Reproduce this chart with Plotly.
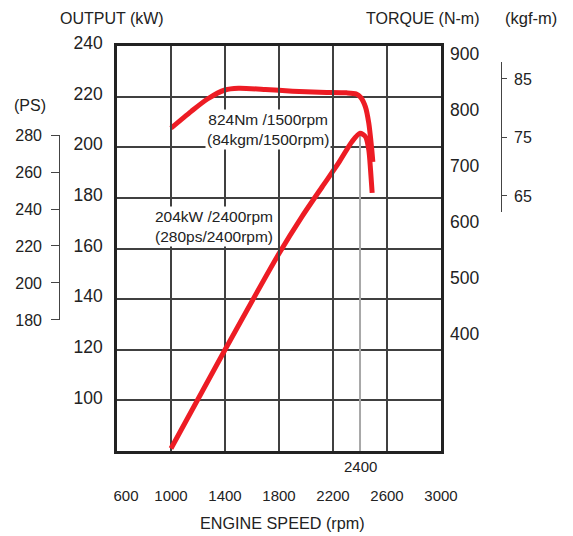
import plotly.graph_objects as go

# ---------------- data ----------------
rpm_power = [1000, 1400, 1800, 1970, 2120, 2240, 2340, 2400, 2440, 2465, 2478, 2490]
power_kw = [81, 120, 158, 172.6, 184.4, 193.7, 202.2, 205.5, 204.2, 199, 191, 182]

rpm_torque = [1000, 1150, 1270, 1400, 1500, 1700, 1900, 2100, 2300, 2370, 2405, 2440, 2465, 2485, 2495]
torque_nm = [767, 797, 819, 835, 838, 836, 833, 831, 830, 828, 822, 805, 776, 734, 707]

x_ticks = [600, 1000, 1400, 1800, 2200, 2600, 3000]
x_tick_text = ["\u2003\u2009600", "1000", "1400", "1800", "2200", "2600", "3000"]
kw_ticks = [100, 120, 140, 160, 180, 200, 220, 240]
nm_ticks = [400, 500, 600, 700, 800, 900]
ps_ticks = [180, 200, 220, 240, 260, 280]
kgf_ticks = [65, 75, 85]

rated_rpm = 2400
power_note = "204kW /2400rpm<br>(280ps/2400rpm)"
torque_note = "824Nm /1500rpm<br>(84kgm/1500rpm)"

# ---------------- style ----------------
RED = "#ED1C24"
INK = "#222222"
GRID = "#404040"
SANS = "Liberation Sans, Arial, sans-serif"

fig = go.Figure()

peak_kw = power_kw[rpm_power.index(rated_rpm)]
fig.add_trace(go.Scatter(x=[rated_rpm, rated_rpm], y=[80, peak_kw], mode="lines",
                         line=dict(color="#A8A8A8", width=2), hoverinfo="skip",
                         showlegend=False))

fig.add_trace(go.Scatter(x=rpm_power, y=power_kw, mode="lines",
                         line=dict(color=RED, width=5, shape="spline", smoothing=0.7),
                         showlegend=False))
fig.add_trace(go.Scatter(x=rpm_torque, y=torque_nm, mode="lines", yaxis="y2",
                         line=dict(color=RED, width=5, shape="spline", smoothing=0.7),
                         showlegend=False))
# empty traces so the PS and kgf-m scales are drawn
fig.add_trace(go.Scatter(x=[], y=[], yaxis="y3", showlegend=False, hoverinfo="skip"))
fig.add_trace(go.Scatter(x=[], y=[], yaxis="y4", showlegend=False, hoverinfo="skip"))

axis_line = dict(showline=True, mirror=True, linecolor=INK, linewidth=2.5)

fig.update_layout(
    template="none",
    width=565, height=528,
    margin=dict(l=12, r=40, t=38, b=85, autoexpand=False),
    paper_bgcolor="white", plot_bgcolor="rgba(0,0,0,0)",
    xaxis=dict(domain=[0.1891, 0.8207], range=[600, 3000], tickvals=x_ticks,
               ticktext=x_tick_text,
               showgrid=True, gridcolor=GRID, gridwidth=1.5, zeroline=False,
               ticks="", tickfont=dict(family=SANS, size=15, color=INK),
               ticklabelstandoff=29, automargin=False, **axis_line),
    yaxis=dict(range=[80, 240], tickvals=kw_ticks, showgrid=True, gridcolor=GRID,
               gridwidth=1.5, zeroline=False, ticks="",
               tickfont=dict(family=SANS, size=17.5, color=INK),
               ticklabelstandoff=8, ticklabelshift=-3, automargin=False, **axis_line),
    yaxis2=dict(overlaying="y", side="right", anchor="x", range=[192, 913.4],
                tickvals=nm_ticks, showgrid=False, zeroline=False, showline=False,
                ticks="", tickfont=dict(family=SANS, size=17.5, color=INK),
                ticklabelstandoff=8, automargin=False),
    yaxis3=dict(anchor="free", position=0.0766, side="left", domain=[0.3235, 0.7802],
                range=[180, 280], tickvals=ps_ticks, showgrid=False, zeroline=False,
                showline=True, linecolor="#444", linewidth=1.3, ticks="outside",
                ticklen=8, tickwidth=1.3, tickcolor="#444", automargin=False,
                tickfont=dict(family=SANS, size=16, color=INK), ticklabelstandoff=6),
    yaxis4=dict(anchor="free", position=0.9370, side="right", domain=[0.5894, 0.9598],
                range=[62.2, 87.85], tickvals=kgf_ticks, showgrid=False, zeroline=False,
                showline=True, linecolor="#444", linewidth=1.3, ticks="outside",
                ticklen=5, tickwidth=1.3, tickcolor="#444", automargin=False,
                tickfont=dict(family=SANS, size=16, color=INK), ticklabelstandoff=4),
)

anns = [
    dict(text="OUTPUT (kW)", x=0.1784, y=1.0679, size=16),
    dict(text="TORQUE (N-m)", x=0.7846, y=1.0691, size=16),
    dict(text="(kgf-m)", x=0.9961, y=1.0691, size=16.5),
    dict(text="ENGINE SPEED (rpm)", x=0.5117, y=-0.1778, size=16.2),
    dict(text="(PS)", x=0.0195, y=0.8519, size=16),
]
for a in anns:
    fig.add_annotation(xref="paper", yref="paper", showarrow=False,
                       font=dict(family=SANS, size=a["size"], color=INK),
                       xanchor="center", yanchor="middle",
                       text=a["text"], x=a["x"], y=a["y"])

fig.add_annotation(xref="x", yref="paper", x=rated_rpm, y=-0.0395, text=str(rated_rpm),
                   showarrow=False, font=dict(family=SANS, size=15, color=INK),
                   xanchor="center", yanchor="middle")

note_font = dict(family=SANS, size=15.5, color=INK)
fig.add_annotation(xref="x", yref="y", x=1719, y=207.1, text=torque_note, showarrow=False,
                   font=note_font, bgcolor="white", borderpad=1, align="center")
fig.add_annotation(xref="x", yref="y", x=1322, y=168.8, text=power_note, showarrow=False,
                   font=note_font, bgcolor="white", borderpad=1, align="center")

fig.write_html("out.html")
